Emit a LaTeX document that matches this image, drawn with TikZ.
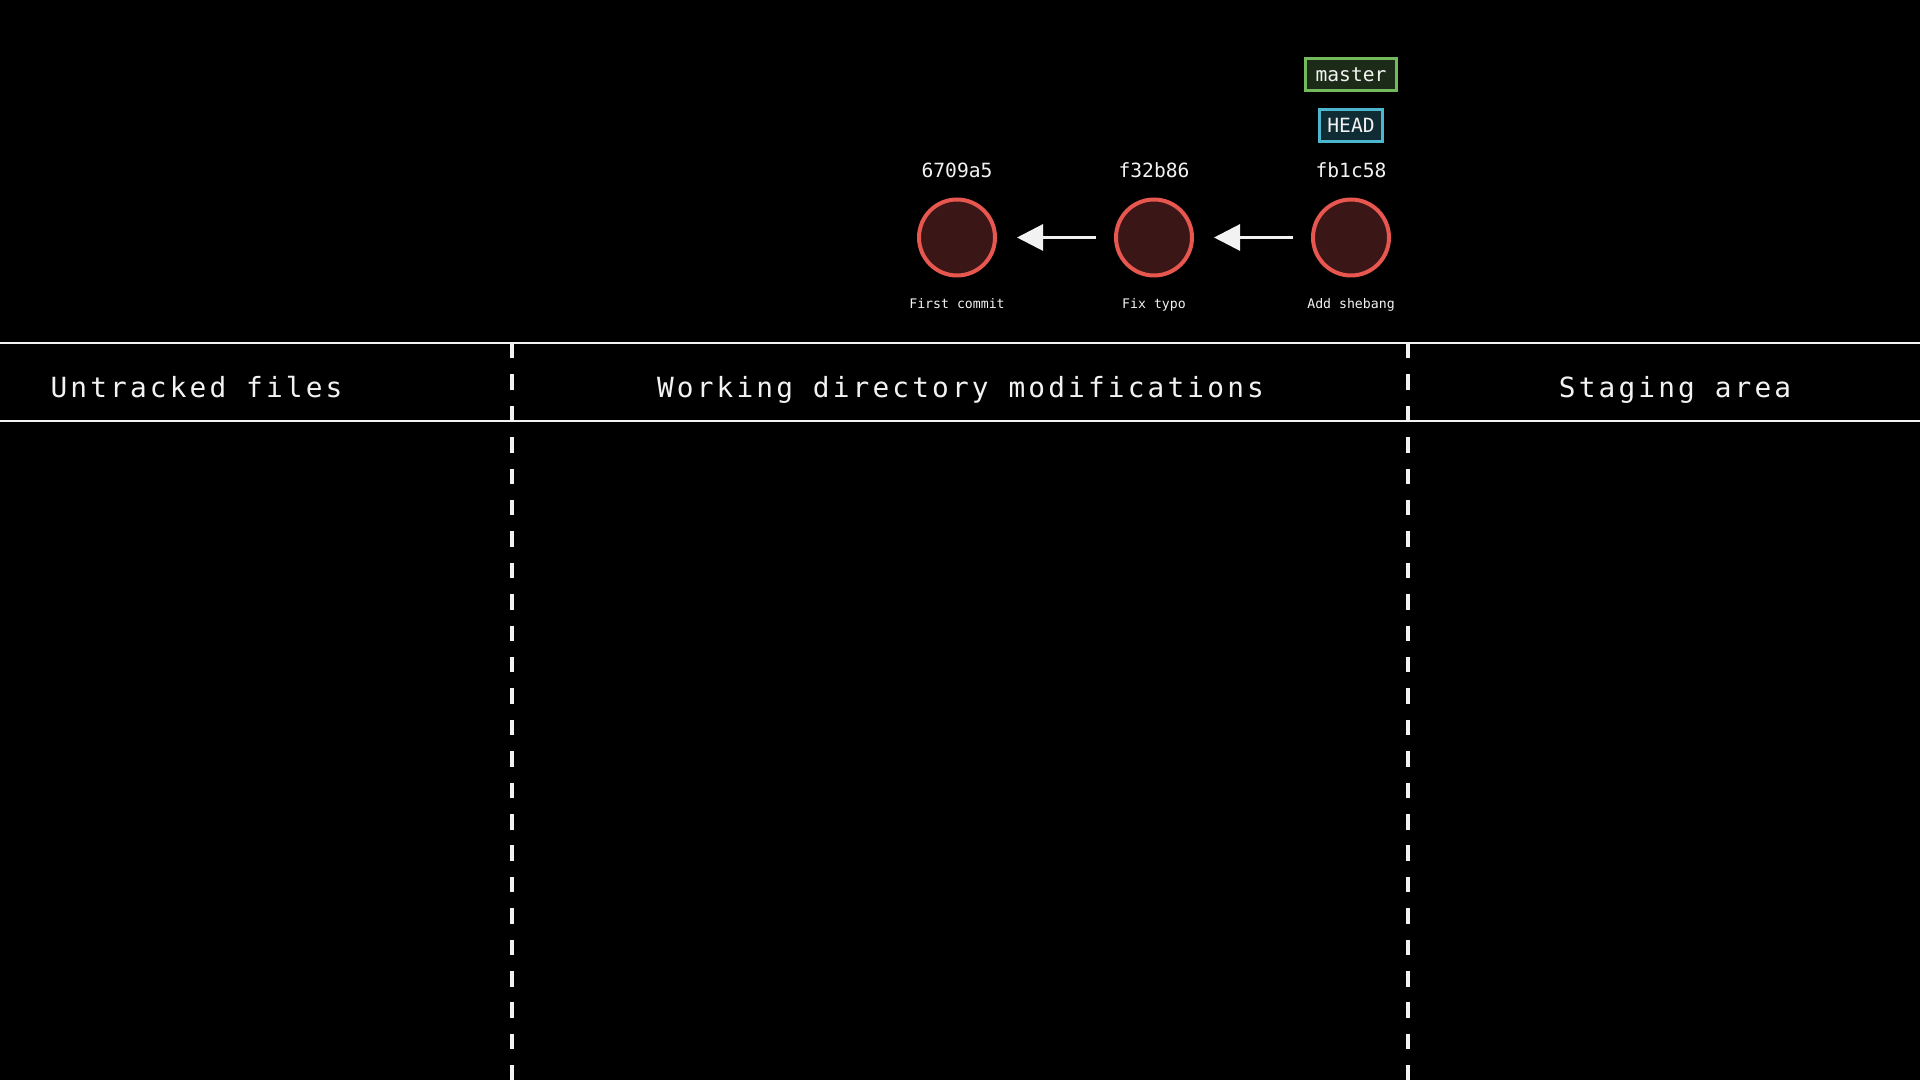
\documentclass[tikz,border=0pt]{standalone}
\usepackage{fontspec}
\setmainfont{DejaVu Sans Mono}
\newfontfamily\headfont[LetterSpace=11.3]{DejaVu Sans Mono}
\usepackage{tikz}
\usetikzlibrary{positioning}
\usetikzlibrary{arrows.meta}
\usepackage{xcolor}
\definecolor{commitfill}{HTML}{3B1616}
\definecolor{commitline}{HTML}{E8574F}
\definecolor{masterfill}{HTML}{1B2B18}
\definecolor{masterline}{HTML}{74B95C}
\definecolor{headfill}{HTML}{0F2C34}
\definecolor{headline}{HTML}{4BB6CE}
\definecolor{textwhite}{HTML}{F2F2F2}

\begin{document}
\begin{tikzpicture}[x=1pt,y=1pt,node distance=197pt,on grid,
   commit/.style={circle,draw=commitline,fill=commitfill,line width=4pt,minimum size=76pt,inner sep=0pt},
   hash/.style={text=textwhite,font=\fontsize{19.6}{24}\selectfont,anchor=base},
   msg/.style={text=textwhite,font=\fontsize{13.2}{16}\selectfont,anchor=base},
   ref/.style={line width=3pt,text=textwhite,font=\fontsize{19.6}{24}\selectfont,minimum height=32pt,inner sep=0pt},
   area/.style={text=textwhite,font=\headfont\fontsize{27.8}{34}\selectfont,anchor=base},
   rule/.style={draw=textwhite,line width=2.5pt},
   divider/.style={draw=textwhite,line width=3.3pt,dash pattern=on 15.5pt off 15.9pt},
   parent/.style={color=textwhite,line width=3pt,-{Triangle[length=26pt,width=26pt]},shorten <=18pt,shorten >=20pt}]
   \fill[black] (0,0) rectangle (1920,1080);
   \useasboundingbox (0,0) rectangle (1920,1080);
   % commits
   \node[commit] (c1) at (957,842.5) {};
   \node[commit] (c2) [right=of c1] {};
   \node[commit] (c3) [right=of c2] {};
   \node (h1) [above=59.8pt of c1,hash] {6709a5};
   \node (h2) [above=59.8pt of c2,hash] {f32b86};
   \node (h3) [above=59.8pt of c3,hash] {fb1c58};
   \node (m1) [below=70.8pt of c1,msg] {First commit};
   \node (m2) [below=70.8pt of c2,msg] {Fix typo};
   \node (m3) [below=70.8pt of c3,msg] {Add shebang};
   % refs
   \node (head) [above=112pt of c3,ref,draw=headline,fill=headfill,minimum width=63pt] {HEAD};
   \node (master) [above=51pt of head,ref,draw=masterline,fill=masterfill,minimum width=91pt] {master};
   \path[parent]
    (c2) edge (c1)
    (c3) edge (c2);
   % areas
   \coordinate (tl) at (0,737);
   \coordinate (tr) at (1920,737);
   \coordinate (bl) at (0,659);
   \coordinate (br) at (1920,659);
   \coordinate (d1top) at (512,737);
   \coordinate (d1bot) at (512,0);
   \coordinate (d2top) at (1408,737);
   \coordinate (d2bot) at (1408,0);
   \draw[rule] (tl) -- (tr);
   \draw[rule] (bl) -- (br);
   \draw[divider] (d1top) -- (d1bot);
   \draw[divider] (d2top) -- (d2bot);
   \node[area] (untracked) at (196.5,682.3) {Untracked files};
   \node[area] (working) at (960.5,682.3) {Working directory modifications};
   \node[area] (staging) at (1675,682.3) {Staging area};
\end{tikzpicture}
\end{document}
